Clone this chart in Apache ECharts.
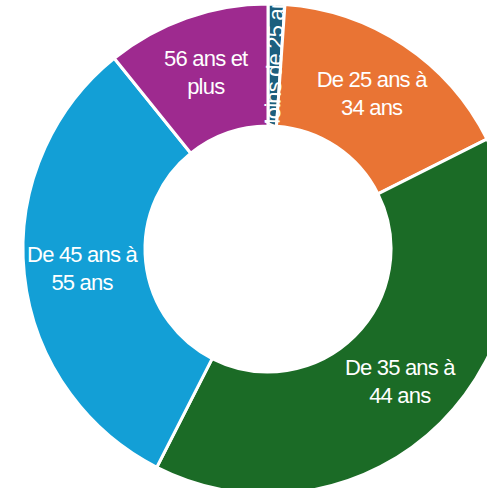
<!DOCTYPE html>
<html>
<head>
<meta charset="utf-8">
<script src="https://cdn.jsdelivr.net/npm/echarts@6/dist/echarts.min.js"></script>
<style>
  html, body { margin: 0; padding: 0; background: #fff; }
  #main { width: 487px; height: 488px; }
  /* the original labels are set a little tighter than plain Arial */
  #main svg text { letter-spacing: -0.8px; }
</style>
</head>
<body>
<div id="main"></div>
<script>
  var categories = ['Moins de 25 ans', 'De 25 ans à\n34 ans', 'De 35 ans à\n44 ans', 'De 45 ans à\n55 ans', '56 ans et\nplus']
  var values = [1.1, 16.5, 39.9, 31.7, 10.8]
  var colors = ['#1C5F7E', '#E97434', '#1B6B26', '#139FD6', '#9E2A8F']

  var myChart = echarts.init(document.getElementById('main'), null, { renderer: 'svg' })

  var pieData = categories.map(function (name, i) {
    var item = { name: name, value: values[i], itemStyle: { color: colors[i] } }
    if (i === 0) {
      item.label = { rotate: 'radial' }
    }
    return item
  })

  myChart.setOption({
    animation: false,
    series: [{
      type: 'pie',
      center: [268, 249],
      radius: [123, 245],
      startAngle: 90,
      clockwise: true,
      itemStyle: {
        borderColor: '#ffffff',
        borderWidth: 3
      },
      label: {
        show: true,
        position: 'inside',
        color: '#ffffff',
        fontFamily: 'Liberation Sans, Arial, sans-serif',
        fontSize: 22,
        lineHeight: 28,
        formatter: '{b}'
      },
      labelLine: { show: false },
      emphasis: { disabled: true },
      data: pieData
    }]
  })
</script>
</body>
</html>
